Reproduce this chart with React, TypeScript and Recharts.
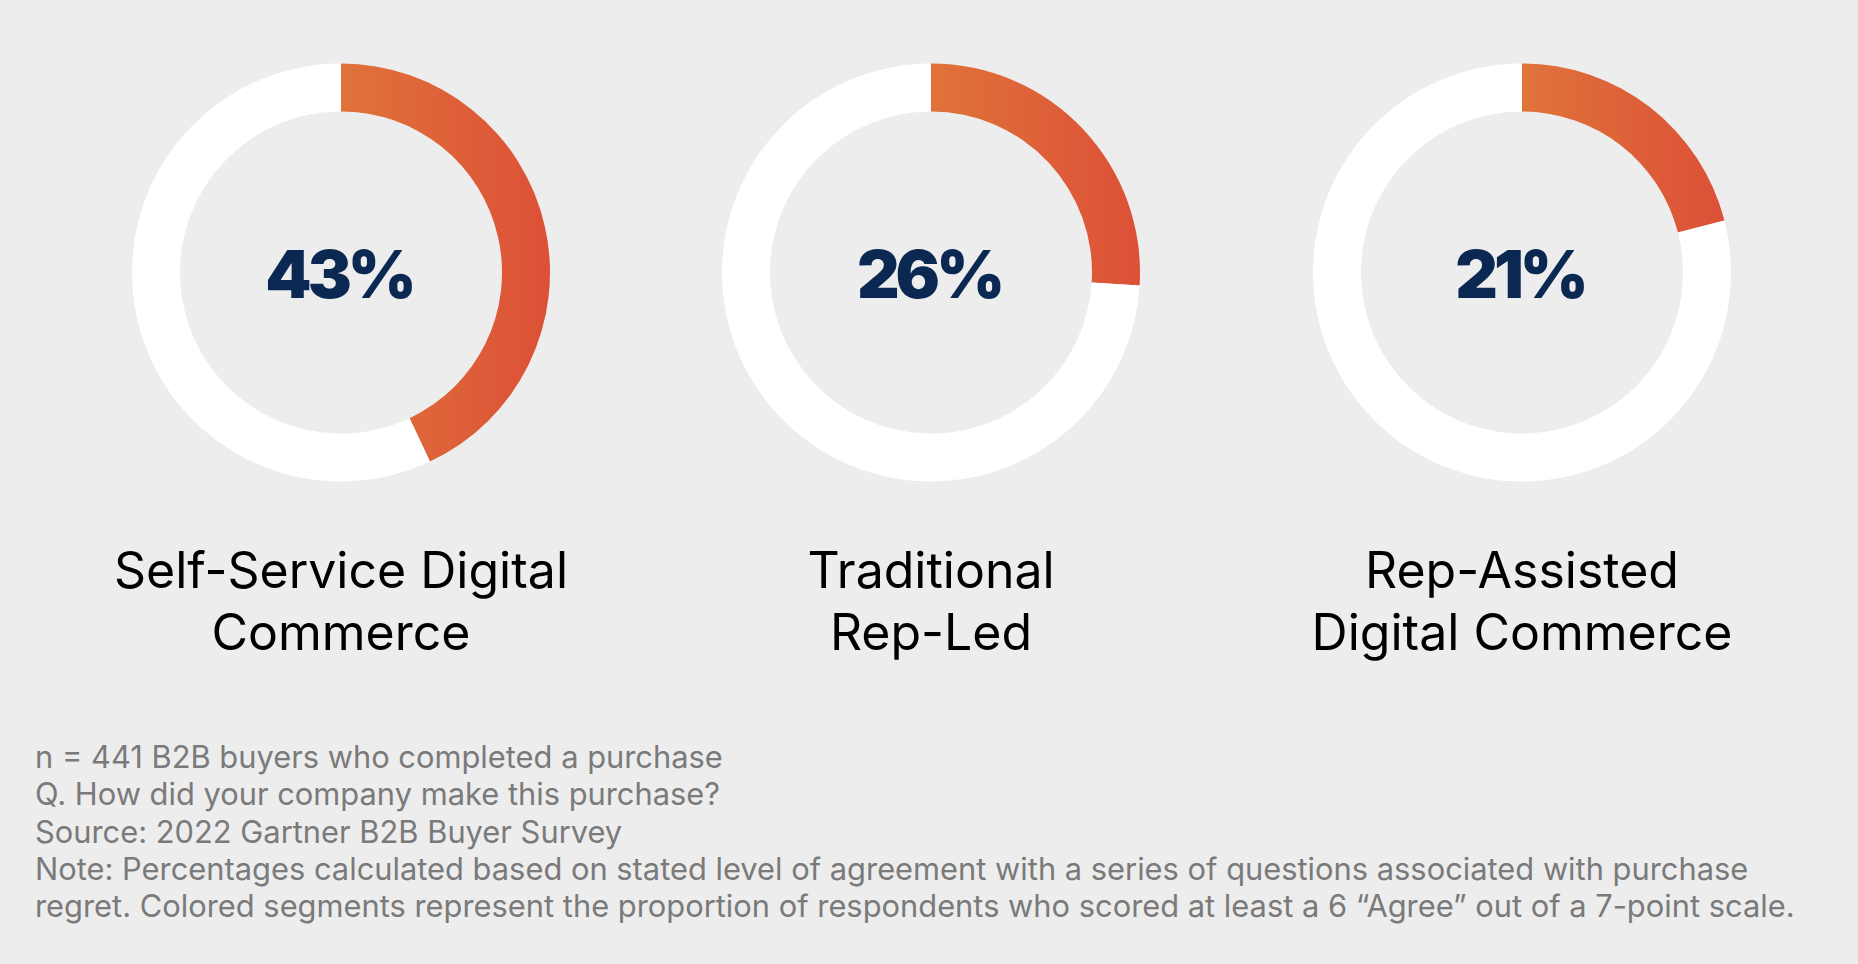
import { Cell, Pie, PieChart } from 'recharts'

const categories = ['Self-Service Digital\nCommerce', 'Traditional\nRep-Led', 'Rep-Assisted\nDigital Commerce']
const regretShare = [43, 26, 21]
const centers = [341, 931, 1522]

const notes = [
  'n = 441 B2B buyers who completed a purchase',
  'Q. How did your company make this purchase?',
  'Source: 2022 Gartner B2B Buyer Survey',
  'Note: Percentages calculated based on stated level of agreement with a series of questions associated with purchase',
  'regret. Colored segments represent the proportion of respondents who scored at least a 6 \u201cAgree\u201d out of a 7-point scale.',
]

const W = 1858
const H = 964
const CY = 272.5

export default function App() {
  return (
    <div style={{ position: 'absolute', left: 0, top: 0, width: W, height: H, background: '#EDEDED', overflow: 'hidden' }}>
      <div style={{ position: 'absolute', left: 0, top: 0 }}>
        <PieChart width={W} height={H} margin={{ top: 0, right: 0, bottom: 0, left: 0 }}>
          <defs>
            <linearGradient id="regret" x1="0" y1="0" x2="1" y2="0">
              <stop offset="0%" stopColor="#E0733A" />
              <stop offset="100%" stopColor="#DC5037" />
            </linearGradient>
          </defs>
          {regretShare.map((v, i) => (
            <Pie
              key={i}
              data={[{ name: 'regret', value: v }, { name: 'rest', value: 100 - v }]}
              dataKey="value"
              cx={centers[i]}
              cy={CY}
              innerRadius={161}
              outerRadius={209}
              startAngle={90}
              endAngle={-270}
              stroke="none"
              isAnimationActive={false}
            >
              <Cell fill="url(#regret)" />
              <Cell fill="#FFFFFF" />
            </Pie>
          ))}
        </PieChart>
      </div>
      <svg width={W} height={H} style={{ position: 'absolute', left: 0, top: 0, pointerEvents: 'none' }}>
        {regretShare.map((v, i) => (
          <text
            key={i}
            x={centers[i] - 2}
            y={298}
            textAnchor="middle"
            fill="#0B2852"
            style={{ fontFamily: 'Inter, "DejaVu Sans", sans-serif', fontWeight: 900, fontSize: 66, letterSpacing: -4 }}
          >
            {`${v}%`}
          </text>
        ))}
      </svg>
      {categories.map((c, i) => (
        <div
          key={c}
          style={{
            position: 'absolute',
            left: centers[i] - 300,
            top: 539,
            width: 600,
            textAlign: 'center',
            whiteSpace: 'pre-line',
            fontFamily: 'Inter, sans-serif',
            fontSize: 50,
            lineHeight: '62px',
            color: '#000',
          }}
        >
          {c}
        </div>
      ))}
      <div
        style={{
          position: 'absolute',
          left: 35,
          top: 738,
          fontFamily: 'Inter, sans-serif',
          fontSize: 30.85,
          lineHeight: '37.3px',
          color: '#7A7A7A',
          whiteSpace: 'pre',
        }}
      >
        {notes.join('\n')}
      </div>
    </div>
  )
}
